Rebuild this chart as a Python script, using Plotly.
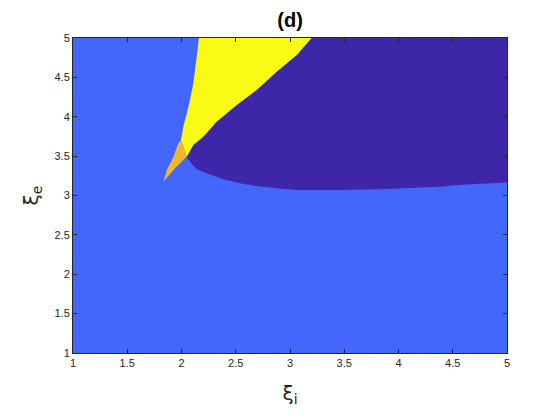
import plotly.graph_objects as go

# region boundaries (xi_i, xi_e)
purple_x = [2.048, 2.109, 2.2, 2.324, 2.509, 2.693, 2.877, 3.062, 3.2, 5.0,
            5.0, 4.767, 4.582, 4.382, 4.136, 3.829, 3.461, 3.092, 2.908,
            2.693, 2.539, 2.386, 2.232, 2.14, 2.078, 2.048]
purple_y = [3.493, 3.641, 3.747, 3.937, 4.15, 4.34, 4.572, 4.784, 5.0, 5.0,
            3.165, 3.15, 3.138, 3.112, 3.095, 3.078, 3.07, 3.07, 3.086,
            3.12, 3.155, 3.206, 3.282, 3.333, 3.43, 3.493]

yellow_x = [1.995, 2.017, 2.072, 2.109, 2.14, 2.161, 3.2, 3.062, 2.877,
            2.693, 2.509, 2.324, 2.2, 2.109, 2.048, 1.995]
yellow_y = [3.705, 3.874, 4.17, 4.425, 4.76, 5.0, 5.0, 4.784, 4.572,
            4.34, 4.15, 3.937, 3.747, 3.641, 3.493, 3.705]

orange_x = [1.832, 1.864, 1.925, 1.971, 1.995, 2.048, 1.94, 1.832]
orange_y = [3.175, 3.32, 3.49, 3.662, 3.705, 3.493, 3.346, 3.175]

ticks = [1, 1.5, 2, 2.5, 3, 3.5, 4, 4.5, 5]
tick_text = ["1", "1.5", "2", "2.5", "3", "3.5", "4", "4.5", "5"]

LIGHT = "#4367FD"
PURPLE = "#3D26A8"
YELLOW = "#F9FB14"
ORANGE = "#EBB630"

fig = go.Figure()
for xs, ys, col in [(purple_x, purple_y, PURPLE),
                    (yellow_x, yellow_y, YELLOW),
                    (orange_x, orange_y, ORANGE)]:
    fig.add_trace(go.Scatter(x=xs, y=ys, fill="toself", fillcolor=col,
                             mode="lines", line=dict(width=0, color=col),
                             hoverinfo="skip", showlegend=False))

axis_style = dict(
    range=[1, 5],
    tickvals=ticks,
    ticktext=tick_text,
    ticks="inside",
    ticklen=4,
    tickcolor="#262626",
    showline=True,
    linecolor="#262626",
    linewidth=1,
    mirror="allticks",
    showgrid=False,
    zeroline=False,
    tickfont=dict(family="Liberation Sans, Arial", size=11, color="#262626"),
)

fig.update_xaxes(**axis_style,
                 title=dict(text="ξ<sub>i</sub>", standoff=17,
                            font=dict(family="DejaVu Sans", size=20, color="#262626")))
fig.update_yaxes(**axis_style,
                 title=dict(text="ξ<sub>e</sub>", standoff=10,
                            font=dict(family="DejaVu Sans", size=20, color="#262626")))

fig.update_layout(
    width=560,
    height=420,
    margin=dict(l=73, r=53, t=38, b=67),
    plot_bgcolor=LIGHT,
    paper_bgcolor="white",
    title=dict(text="<b>(d)</b>", x=0.518, xanchor="center",
               y=0.952, yanchor="middle",
               font=dict(family="Liberation Sans, Arial", size=20, color="black")),
)

fig.write_html("out.html", config={"displayModeBar": False},
               post_script="document.body.style.margin='0px';")
